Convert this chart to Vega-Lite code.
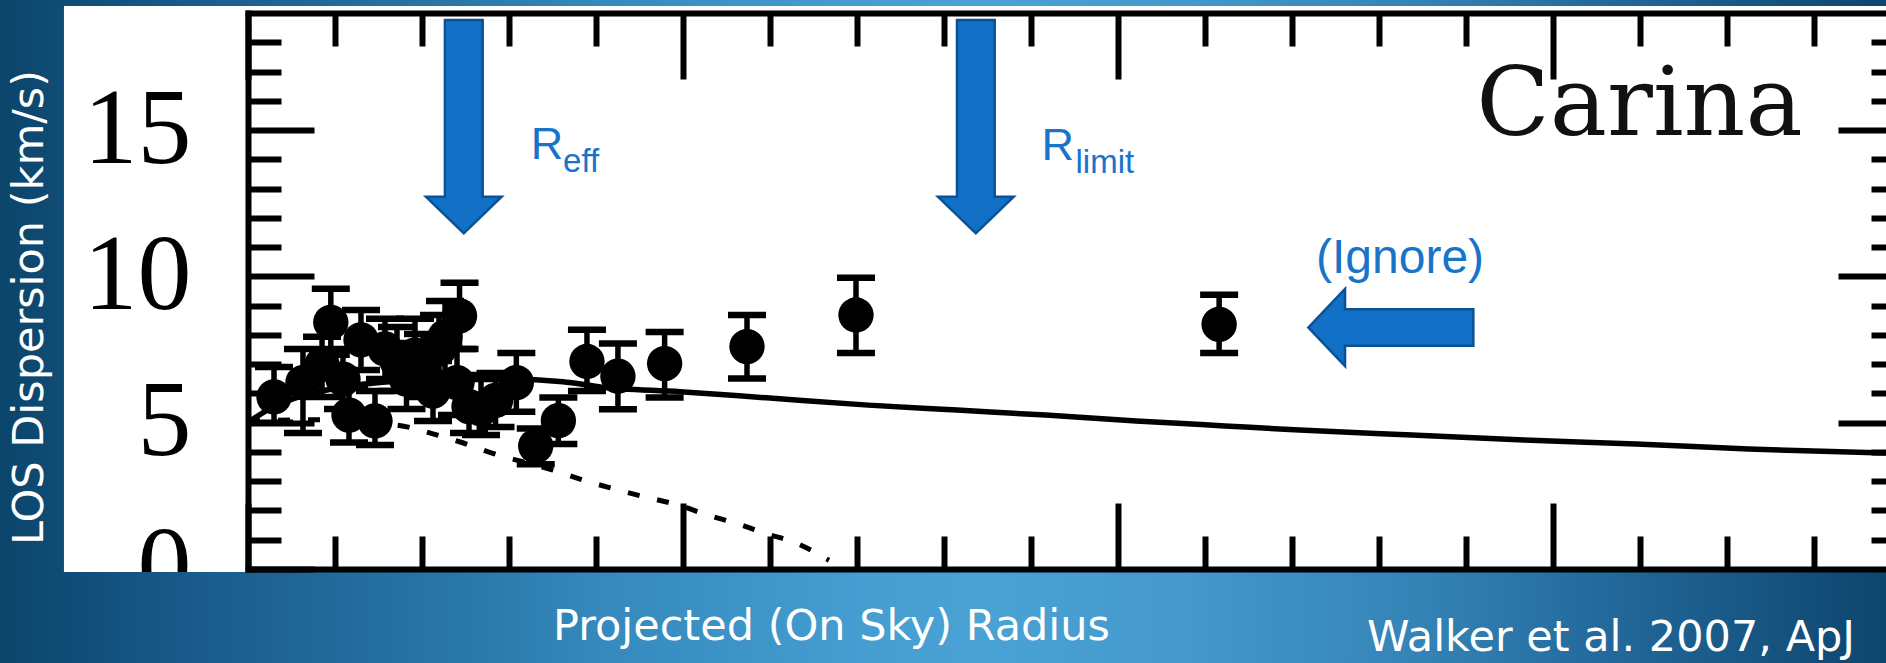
{
  "$schema": "https://vega.github.io/schema/vega-lite/v6.json",
  "width": 1638,
  "height": 556,
  "autosize": {"type": "none"},
  "padding": {"left": 248, "top": 13, "right": 0, "bottom": 94},
  "background": "#2a78aa",
  "config": {"view": {"stroke": null}, "axis": {"grid": false, "zindex": 1}},
  "datasets": {
    "points": [
      {"r": 0.0299, "sigma": 5.88, "lo": 5.00, "hi": 6.90},
      {"r": 0.0632, "sigma": 6.37, "lo": 4.65, "hi": 7.52},
      {"r": 0.0952, "sigma": 8.43, "lo": 7.32, "hi": 9.58},
      {"r": 0.0851, "sigma": 6.99, "lo": 5.88, "hi": 7.94},
      {"r": 0.1092, "sigma": 6.49, "lo": 5.47, "hi": 7.52},
      {"r": 0.1161, "sigma": 5.26, "lo": 4.32, "hi": 6.29},
      {"r": 0.1299, "sigma": 7.83, "lo": 6.80, "hi": 8.85},
      {"r": 0.146, "sigma": 5.06, "lo": 4.24, "hi": 6.08},
      {"r": 0.1575, "sigma": 7.52, "lo": 6.49, "hi": 8.55},
      {"r": 0.1713, "sigma": 7.11, "lo": 6.08, "hi": 8.27},
      {"r": 0.1822, "sigma": 6.49, "lo": 5.47, "hi": 7.72},
      {"r": 0.192, "sigma": 7.31, "lo": 6.22, "hi": 8.55},
      {"r": 0.2012, "sigma": 6.90, "lo": 5.88, "hi": 8.03},
      {"r": 0.2127, "sigma": 6.08, "lo": 5.06, "hi": 7.11},
      {"r": 0.2196, "sigma": 7.52, "lo": 6.49, "hi": 8.68},
      {"r": 0.2265, "sigma": 7.93, "lo": 6.70, "hi": 9.16},
      {"r": 0.2432, "sigma": 8.65, "lo": 7.52, "hi": 9.78},
      {"r": 0.2403, "sigma": 6.37, "lo": 5.26, "hi": 7.52},
      {"r": 0.2541, "sigma": 5.55, "lo": 4.65, "hi": 6.63},
      {"r": 0.2679, "sigma": 5.47, "lo": 4.58, "hi": 6.49},
      {"r": 0.2846, "sigma": 5.76, "lo": 4.85, "hi": 6.70},
      {"r": 0.3085, "sigma": 6.37, "lo": 5.37, "hi": 7.38},
      {"r": 0.3308, "sigma": 4.20, "lo": 3.58, "hi": 4.80},
      {"r": 0.3568, "sigma": 5.07, "lo": 4.27, "hi": 5.86},
      {"r": 0.3897, "sigma": 7.09, "lo": 6.08, "hi": 8.18},
      {"r": 0.4253, "sigma": 6.59, "lo": 5.46, "hi": 7.71},
      {"r": 0.4790, "sigma": 7.02, "lo": 5.86, "hi": 8.10},
      {"r": 0.5737, "sigma": 7.60, "lo": 6.51, "hi": 8.68},
      {"r": 0.6990, "sigma": 8.68, "lo": 7.38, "hi": 9.95},
      {"r": 1.1165, "sigma": 8.36, "lo": 7.38, "hi": 9.37}
    ],
    "solid": [
      {"r": 0.0, "sigma": 5.00},
      {"r": 0.022, "sigma": 5.43},
      {"r": 0.06, "sigma": 5.90},
      {"r": 0.117, "sigma": 6.25},
      {"r": 0.198, "sigma": 6.45},
      {"r": 0.29, "sigma": 6.49},
      {"r": 0.362, "sigma": 6.40},
      {"r": 0.405, "sigma": 6.22},
      {"r": 0.497, "sigma": 6.06},
      {"r": 0.600, "sigma": 5.84},
      {"r": 0.713, "sigma": 5.60},
      {"r": 0.815, "sigma": 5.43},
      {"r": 0.917, "sigma": 5.26},
      {"r": 1.021, "sigma": 5.06},
      {"r": 1.123, "sigma": 4.89},
      {"r": 1.209, "sigma": 4.75},
      {"r": 1.338, "sigma": 4.58},
      {"r": 1.467, "sigma": 4.41},
      {"r": 1.596, "sigma": 4.27},
      {"r": 1.725, "sigma": 4.10},
      {"r": 1.883, "sigma": 3.96}
    ],
    "dotted": [
      {"r": 0.0, "sigma": 5.05},
      {"r": 0.08, "sigma": 5.10},
      {"r": 0.14, "sigma": 5.02},
      {"r": 0.1885, "sigma": 4.82},
      {"r": 0.209, "sigma": 4.65},
      {"r": 0.244, "sigma": 4.34},
      {"r": 0.2805, "sigma": 3.96},
      {"r": 0.3507, "sigma": 3.38},
      {"r": 0.385, "sigma": 3.04},
      {"r": 0.422, "sigma": 2.73},
      {"r": 0.4565, "sigma": 2.46},
      {"r": 0.4944, "sigma": 2.19},
      {"r": 0.5277, "sigma": 1.85},
      {"r": 0.5633, "sigma": 1.54},
      {"r": 0.5967, "sigma": 1.20},
      {"r": 0.630, "sigma": 0.89},
      {"r": 0.668, "sigma": 0.30}
    ]
  },
  "resolve": {"axis": {"x": "independent", "y": "independent"}},
  "layer": [
    {
      "data": {"values": [{}]},
      "mark": {"type": "rect", "clip": false, "fill": {"gradient": "linear", "x1": 0, "y1": 0, "x2": 1, "y2": 0, "stops": [
        {"offset": 0, "color": "#0a4368"},
        {"offset": 0.1, "color": "#18598a"},
        {"offset": 0.25, "color": "#2a78aa"},
        {"offset": 0.32, "color": "#3589bc"},
        {"offset": 0.45, "color": "#449cd0"},
        {"offset": 0.52, "color": "#4aa2d4"},
        {"offset": 0.62, "color": "#4599cc"},
        {"offset": 0.75, "color": "#3483b6"},
        {"offset": 0.85, "color": "#22689a"},
        {"offset": 1, "color": "#0c436b"}
      ]}},
      "encoding": {
        "x": {"datum": -0.3, "type": "quantitative", "scale": {"domain": [0, 1.8832], "nice": false, "zero": false}, "axis": null},
        "x2": {"datum": 1.9},
        "y": {"datum": -3.4, "type": "quantitative", "scale": {"domain": [0, 19], "nice": false, "zero": false}, "axis": null},
        "y2": {"datum": 19.6}
      }
    },
    {
      "data": {"values": [{}]},
      "mark": {"type": "rect", "clip": false, "fill": "white"},
      "encoding": {
        "x": {"datum": -0.2116, "type": "quantitative", "axis": null},
        "x2": {"datum": 1.9},
        "y": {"datum": -0.1025, "type": "quantitative", "axis": null},
        "y2": {"datum": 19.239}
      }
    },
    {
      "data": {"name": "dotted"},
      "mark": {"type": "line", "color": "black", "strokeWidth": 5, "strokeDash": [12, 18], "interpolate": "monotone"},
      "encoding": {
        "x": {"field": "r", "type": "quantitative", "axis": {"orient": "top", "values": [0, 0.5, 1, 1.5], "tickSize": -66, "tickWidth": 6, "tickColor": "black", "labels": false, "domain": true, "domainColor": "black", "domainWidth": 6, "domainCap": "square", "title": null, "zindex": 1}},
        "y": {"field": "sigma", "type": "quantitative", "axis": {"orient": "left", "values": [0, 5, 10, 15], "tickSize": -66, "tickWidth": 6, "tickColor": "black", "labels": false, "domain": false, "title": null, "zindex": 1}}
      }
    },
    {
      "data": {"name": "solid"},
      "mark": {"type": "line", "color": "black", "strokeWidth": 5.5, "interpolate": "monotone"},
      "encoding": {
        "x": {"field": "r", "type": "quantitative", "scale": {"domain": [0, 1.8832], "nice": false, "zero": false}, "axis": {"orient": "bottom", "values": [0, 0.5, 1, 1.5], "tickSize": -66, "tickWidth": 6, "tickColor": "black", "labels": false, "domain": true, "domainColor": "black", "domainWidth": 6, "domainCap": "square", "title": "Projected (On Sky) Radius", "titleFont": "DejaVu Sans", "titleFontSize": 43, "titleFontWeight": "normal", "titleColor": "white", "titleX": 583, "titleY": 70, "titleAlign": "center", "titleBaseline": "alphabetic", "titleAngle": 0, "zindex": 1}},
        "y": {"field": "sigma", "type": "quantitative", "scale": {"domain": [0, 19], "nice": false, "zero": false}, "axis": {"orient": "left", "values": [5, 10, 15], "ticks": false, "tickSize": 0, "labels": true, "labelFont": "Liberation Serif", "labelFontSize": 108, "labelColor": "black", "labelPadding": 57, "labelFlush": false, "labelOverlap": false, "domain": true, "domainColor": "black", "domainWidth": 6, "domainCap": "square", "title": "LOS Dispersion (km/s)", "titleFont": "DejaVu Sans", "titleFontSize": 43, "titleFontWeight": "normal", "titleColor": "white", "titleAngle": 270, "titleX": -206, "titleY": 294, "titleAlign": "center", "titleBaseline": "alphabetic", "zindex": 1}}
      }
    },
    {
      "data": {"name": "points"},
      "mark": {"type": "rule", "color": "black", "strokeWidth": 5.5},
      "encoding": {
        "x": {"field": "r", "type": "quantitative", "axis": {"orient": "bottom", "values": [0.1, 0.2, 0.3, 0.4, 0.6, 0.7, 0.8, 0.9, 1.1, 1.2, 1.3, 1.4, 1.6, 1.7, 1.8], "tickSize": -33, "tickWidth": 6, "tickColor": "black", "labels": false, "domain": false, "title": null, "zindex": 1}},
        "y": {"field": "lo", "type": "quantitative", "axis": {"orient": "left", "values": [1, 2, 3, 4, 6, 7, 8, 9, 11, 12, 13, 14, 16, 17, 18], "tickSize": -33, "tickWidth": 6, "tickColor": "black", "labels": false, "domain": false, "title": null, "zindex": 1}},
        "y2": {"field": "hi"}
      }
    },
    {
      "data": {"name": "points"},
      "mark": {"type": "tick", "orient": "horizontal", "color": "black", "size": 38, "thickness": 6.5, "opacity": 1},
      "encoding": {
        "x": {"field": "r", "type": "quantitative", "axis": {"orient": "top", "values": [0.1, 0.2, 0.3, 0.4, 0.6, 0.7, 0.8, 0.9, 1.1, 1.2, 1.3, 1.4, 1.6, 1.7, 1.8], "tickSize": -33, "tickWidth": 6, "tickColor": "black", "labels": false, "domain": false, "title": null, "zindex": 1}},
        "y": {"field": "lo", "type": "quantitative", "axis": {"orient": "right", "values": [5, 10, 15], "tickSize": -48, "tickWidth": 6, "tickColor": "black", "labels": false, "domain": false, "title": null, "zindex": 1}}
      }
    },
    {
      "data": {"name": "points"},
      "mark": {"type": "tick", "orient": "horizontal", "color": "black", "size": 38, "thickness": 6.5, "opacity": 1},
      "encoding": {
        "x": {"field": "r", "type": "quantitative", "axis": null},
        "y": {"field": "hi", "type": "quantitative", "axis": {"orient": "right", "values": [1, 2, 3, 4, 6, 7, 8, 9, 11, 12, 13, 14, 16, 17, 18], "tickSize": -15, "tickWidth": 6, "tickColor": "black", "labels": false, "domain": false, "title": null, "zindex": 1}}
      }
    },
    {
      "data": {"name": "points"},
      "mark": {"type": "point", "shape": "circle", "filled": true, "color": "black", "size": 1250, "opacity": 1, "strokeWidth": 0},
      "encoding": {
        "x": {"field": "r", "type": "quantitative", "axis": null},
        "y": {"field": "sigma", "type": "quantitative", "axis": null}
      }
    },
    {
      "data": {"values": [{}]},
      "mark": {"type": "text", "text": "0", "font": "Liberation Serif", "fontSize": 108, "color": "black", "align": "right", "baseline": "middle"},
      "encoding": {
        "x": {"datum": -0.065, "type": "quantitative", "axis": null},
        "y": {"datum": 0, "type": "quantitative", "axis": null}
      }
    },
    {
      "data": {"values": [{}]},
      "mark": {"type": "rect", "clip": false, "fill": {"gradient": "linear", "x1": 0, "y1": 0, "x2": 1, "y2": 0, "stops": [
        {"offset": 0, "color": "#0a4368"},
        {"offset": 0.1, "color": "#18598a"},
        {"offset": 0.25, "color": "#2a78aa"},
        {"offset": 0.32, "color": "#3589bc"},
        {"offset": 0.45, "color": "#449cd0"},
        {"offset": 0.52, "color": "#4aa2d4"},
        {"offset": 0.62, "color": "#4599cc"},
        {"offset": 0.75, "color": "#3483b6"},
        {"offset": 0.85, "color": "#22689a"},
        {"offset": 1, "color": "#0c436b"}
      ]}},
      "encoding": {
        "x": {"datum": -0.3, "type": "quantitative", "axis": null},
        "x2": {"datum": 1.9},
        "y": {"datum": -3.4, "type": "quantitative", "axis": null},
        "y2": {"datum": -0.1025}
      }
    },
    {
      "data": {"values": [{}]},
      "mark": {"type": "text", "text": "Walker et al. 2007, ApJ", "font": "DejaVu Sans", "fontSize": 43, "color": "white", "align": "right", "baseline": "alphabetic"},
      "encoding": {
        "x": {"datum": 1.8476, "type": "quantitative", "axis": null},
        "y": {"datum": -2.80, "type": "quantitative", "axis": null}
      }
    },
    {
      "data": {"values": [{}]},
      "mark": {"type": "text", "text": "Carina", "font": "DejaVu Serif", "fontSize": 96, "color": "#111111", "align": "center", "baseline": "alphabetic"},
      "encoding": {
        "x": {"datum": 1.5998, "type": "quantitative", "axis": null},
        "y": {"datum": 14.82, "type": "quantitative", "axis": null}
      }
    },
    {
      "data": {"values": [{}]},
      "mark": {"type": "text", "text": "R", "font": "Liberation Sans", "fontSize": 45, "color": "#1874c9", "align": "left", "baseline": "alphabetic"},
      "encoding": {
        "x": {"datum": 0.325, "type": "quantitative", "axis": null},
        "y": {"datum": 14.0, "type": "quantitative", "axis": null}
      }
    },
    {
      "data": {"values": [{}]},
      "mark": {"type": "text", "text": "eff", "font": "Liberation Sans", "fontSize": 33, "color": "#1874c9", "align": "left", "baseline": "alphabetic"},
      "encoding": {
        "x": {"datum": 0.3622, "type": "quantitative", "axis": null},
        "y": {"datum": 13.58, "type": "quantitative", "axis": null}
      }
    },
    {
      "data": {"values": [{}]},
      "mark": {"type": "text", "text": "R", "font": "Liberation Sans", "fontSize": 45, "color": "#1874c9", "align": "left", "baseline": "alphabetic"},
      "encoding": {
        "x": {"datum": 0.9124, "type": "quantitative", "axis": null},
        "y": {"datum": 13.98, "type": "quantitative", "axis": null}
      }
    },
    {
      "data": {"values": [{}]},
      "mark": {"type": "text", "text": "limit", "font": "Liberation Sans", "fontSize": 33, "color": "#1874c9", "align": "left", "baseline": "alphabetic"},
      "encoding": {
        "x": {"datum": 0.9514, "type": "quantitative", "axis": null},
        "y": {"datum": 13.53, "type": "quantitative", "axis": null}
      }
    },
    {
      "data": {"values": [{}]},
      "mark": {"type": "text", "text": "(Ignore)", "font": "Liberation Sans", "fontSize": 48, "color": "#1874c9", "align": "center", "baseline": "alphabetic"},
      "encoding": {
        "x": {"datum": 1.3245, "type": "quantitative", "axis": null},
        "y": {"datum": 10.1, "type": "quantitative", "axis": null}
      }
    },
    {
      "data": {"values": [{}]},
      "mark": {"type": "point", "shape": "M-0.177,-1 L0.177,-1 L0.177,0.656 L0.355,0.656 L0,1 L-0.355,0.656 L-0.177,0.656 Z", "size": 45497, "filled": true, "fill": "#1270c6", "stroke": "#0b5294", "strokeWidth": 2.5, "opacity": 1, "fillOpacity": 1},
      "encoding": {
        "x": {"datum": 0.2481, "type": "quantitative", "axis": null},
        "y": {"datum": 15.115, "type": "quantitative", "axis": null}
      }
    },
    {
      "data": {"values": [{}]},
      "mark": {"type": "point", "shape": "M-0.177,-1 L0.177,-1 L0.177,0.656 L0.355,0.656 L0,1 L-0.355,0.656 L-0.177,0.656 Z", "size": 45497, "filled": true, "fill": "#1270c6", "stroke": "#0b5294", "strokeWidth": 2.5, "opacity": 1, "fillOpacity": 1},
      "encoding": {
        "x": {"datum": 0.8368, "type": "quantitative", "axis": null},
        "y": {"datum": 15.115, "type": "quantitative", "axis": null}
      }
    },
    {
      "data": {"values": [{}]},
      "mark": {"type": "point", "shape": "M-1,0 L-0.555,-0.467 L-0.555,-0.222 L1,-0.222 L1,0.222 L-0.555,0.222 L-0.555,0.467 Z", "size": 27225, "filled": true, "fill": "#1270c6", "stroke": "#0b5294", "strokeWidth": 2.5, "opacity": 1, "fillOpacity": 1},
      "encoding": {
        "x": {"datum": 1.3139, "type": "quantitative", "axis": null},
        "y": {"datum": 8.253, "type": "quantitative", "axis": null}
      }
    }
  ]
}
